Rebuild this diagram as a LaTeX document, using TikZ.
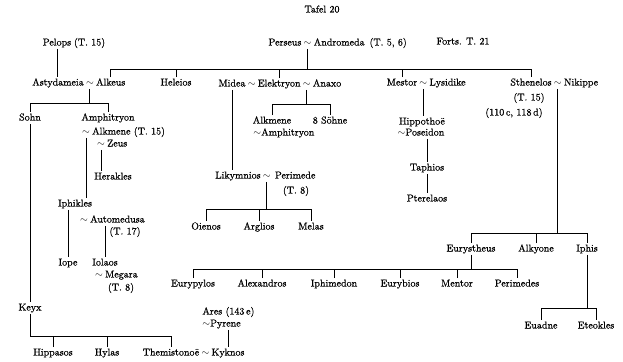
\documentclass[tikz,border=0pt]{standalone}
\usepackage{fontspec}
\setmainfont{Latin Modern Roman}[FakeBold=0.6]
\begin{document}
\begin{tikzpicture}[x=1pt,y=-1pt,
  nm/.style={inner xsep=1pt, inner ysep=1pt, text height=7pt, text depth=2pt},
  tl/.style={nm, inner xsep=0.4pt},
  every node/.style={nm},
  line width=0.9pt]
\useasboundingbox (0,0) rectangle (623,361);
% header
\node (tafel) at (322,10) {Tafel 20};
\node (forts) at (463,42) {Forts. T. 21};
\node (pelops) at (57,43) {Pelops};
\node[anchor=west] (pelopsT) at (pelops.east) {(T. 15)};
\node (perseus) at (285,43) {Perseus};
\node[tl,anchor=west] (pt) at (perseus.east) {$\sim$};
\node[anchor=west] (andromeda) at (pt.east) {Andromeda};
\node[anchor=west] (persT) at ([xshift=2pt]andromeda.east) {(T. 5, 6)};
% row of Perseus' children
\node (astydameia) at (58,83) {Astydameia};
\node[tl,anchor=west] (at) at (astydameia.east) {$\sim$};
\node[anchor=west] (alkeus) at (at.east) {Alkeus};
\node (heleios) at (176,83) {Heleios};
\node (midea) at (232,84) {Midea};
\node[tl,anchor=west] (me1) at (midea.east) {$\sim$};
\node[anchor=west] (elektryon) at (me1.east) {Elektryon};
\node[tl,anchor=west] (me2) at (elektryon.east) {$\sim$};
\node[anchor=west] (anaxo) at (me2.east) {Anaxo};
\node (mestor) at (402,83) {Mestor};
\node[tl,anchor=west] (ml) at (mestor.east) {$\sim$};
\node[anchor=west] (lysidike) at (ml.east) {Lysidike};
\node (sthenelos) at (531,83) {Sthenelos};
\node[tl,anchor=west] (sn) at (sthenelos.east) {$\sim$};
\node[anchor=west] (nikippe) at (sn.east) {Nikippe};
\node (sthT) at (529,98) {(T. 15)};
\node (sthN) at (514,113) {(110\,c, 118\,d)};
% Alkeus branch
\node (sohn) at (30,118) {Sohn};
\node (amphitryon) at (108,118) {Amphitryon};
\node[tl] (amt) at (86,132) {$\sim$};
\node[anchor=west] (alkmene) at (amt.east) {Alkmene (T. 15)};
\node[tl] (zt) at (101,144) {$\sim$};
\node[anchor=west] (zeus) at (zt.east) {Zeus};
\node (herakles) at (113,177) {Herakles};
\node (iphikles) at (75,204) {Iphikles};
\node[tl] (aut) at (84,220) {$\sim$};
\node[anchor=west] (automedusa) at (aut.east) {Automedusa};
\node (automT) at (125,232) {(T. 17)};
\node (iope) at (68,263) {Iope};
\node (iolaos) at (105,263) {Iolaos};
\node[tl] (megt) at (99,275) {$\sim$};
\node[anchor=west] (megara) at (megt.east) {Megara};
\node (megT) at (121,288) {(T. 8)};
\node (keyx) at (30,308) {Keyx};
\node (hippasos) at (53,353) {Hippasos};
\node (hylas) at (107,353) {Hylas};
\node (themistonoe) at (171,353) {Themistonoë};
\node[tl,anchor=west] (tkt) at (themistonoe.east) {$\sim$};
\node[anchor=west] (kyknos) at (tkt.east) {Kyknos};
\node[anchor=west] (ares) at (201,312) {Ares (143\,e)};
\node[anchor=west] (pyrene) at (201,324) {$\sim$Pyrene};
% Elektryon branch
\node (alkmeneB) at (272,121) {Alkmene};
\node (soehne) at (330,121) {8 Söhne};
\node[anchor=west] (amphB) at (252,133) {$\sim$Amphitryon};
\node (likymnios) at (238,176) {Likymnios};
\node[tl,anchor=west] (lpt) at (likymnios.east) {$\sim$};
\node[anchor=west] (perimede) at ([xshift=2pt]lpt.east) {Perimede};
\node (perimT) at (296,191) {(T. 8)};
\node (oienos) at (206,227) {Oienos};
\node (arglios) at (259,227) {Arglios};
\node (melas) at (311,227) {Melas};
% Mestor branch
\node (hippothoe) at (422,122) {Hippothoë};
\node (poseidon) at (421,133) {$\sim$Poseidon};
\node (taphios) at (427,168) {Taphios};
\node (pterelaos) at (427,199) {Pterelaos};
% Sthenelos branch
\node (eurystheus) at (471,249) {Eurystheus};
\node (alkyone) at (536,249) {Alkyone};
\node (iphis) at (587,249) {Iphis};
\node (eurypylos) at (193,284) {Eurypylos};
\node (alexandros) at (262,284) {Alexandros};
\node (iphimedon) at (334,284) {Iphimedon};
\node (eurybios) at (400,284) {Eurybios};
\node (mentor) at (457,284) {Mentor};
\node (perimedes) at (517,284) {Perimedes};
\node (euadne) at (541,326) {Euadne};
\node (eteokles) at (596,326) {Eteokles};
% bar levels
\coordinate (pbar) at (0,69);
\coordinate (abar) at (0,103);
\coordinate (ebar) at (0,104);
\coordinate (lbar) at (0,209);
\coordinate (sbar) at (0,233);
\coordinate (eubar) at (0,269);
\coordinate (ibar) at (0,308);
\coordinate (kbar) at (0,336);
% connectors
\draw (pelops.south) -- (pelops.south |- astydameia.north);
\draw (pt.south) -- (pt.south |- pbar);
\draw (alkeus.north) -- (alkeus.north |- pbar) -- (sthenelos.north |- pbar) -- (sthenelos.north);
\foreach \n in {heleios,elektryon,mestor} \draw (\n.north) -- (\n.north |- pbar);
\draw (at.south) -- (at.south |- abar);
\draw (sohn.north) -- (sohn.north |- abar) -- (amphitryon.north |- abar) -- (amphitryon.north);
\draw (amt.south) -- (amt.south |- iphikles.north);
\draw (zt.south) -- (zt.south |- herakles.north);
\draw (iphikles.south -| iope.north) -- (iope.north);
\draw (iolaos.north |- automedusa.south) -- (iolaos.north);
\draw (sohn.south) -- (keyx.north);
\draw (keyx.south) -- (keyx.south |- kbar) -- (themistonoe.north |- kbar) -- (themistonoe.north);
\foreach \n in {hippasos,hylas} \draw (\n.north) -- (\n.north |- kbar);
\draw (kyknos.north |- pyrene.south) -- (kyknos.north);
\draw (me2.south) -- (me2.south |- ebar);
\draw (alkmeneB.north) -- (alkmeneB.north |- ebar) -- (soehne.north |- ebar) -- (soehne.north);
\draw (midea.south) -- (midea.south |- likymnios.north);
\draw (lpt.south) -- (lpt.south |- lbar);
\draw (oienos.north) -- (oienos.north |- lbar) -- (melas.north |- lbar) -- (melas.north);
\draw (arglios.north) -- (arglios.north |- lbar);
\draw (ml.south) -- (ml.south |- hippothoe.north);
\draw (taphios.north |- poseidon.south) -- (taphios.north);
\draw (taphios.south) -- (pterelaos.north);
\draw (sn.south) -- (sn.south |- sbar);
\draw (eurystheus.north) -- (eurystheus.north |- sbar) -- (iphis.north |- sbar) -- (iphis.north);
\draw (alkyone.north) -- (alkyone.north |- sbar);
\draw (eurystheus.south) -- (eurystheus.south |- eubar);
\draw (eurypylos.north) -- (eurypylos.north |- eubar) -- (perimedes.north |- eubar) -- (perimedes.north);
\foreach \n in {alexandros,iphimedon,eurybios,mentor} \draw (\n.north) -- (\n.north |- eubar);
\draw (iphis.south) -- (iphis.south |- ibar);
\draw (euadne.north) -- (euadne.north |- ibar) -- (eteokles.north |- ibar) -- (eteokles.north);
\end{tikzpicture}
\end{document}
